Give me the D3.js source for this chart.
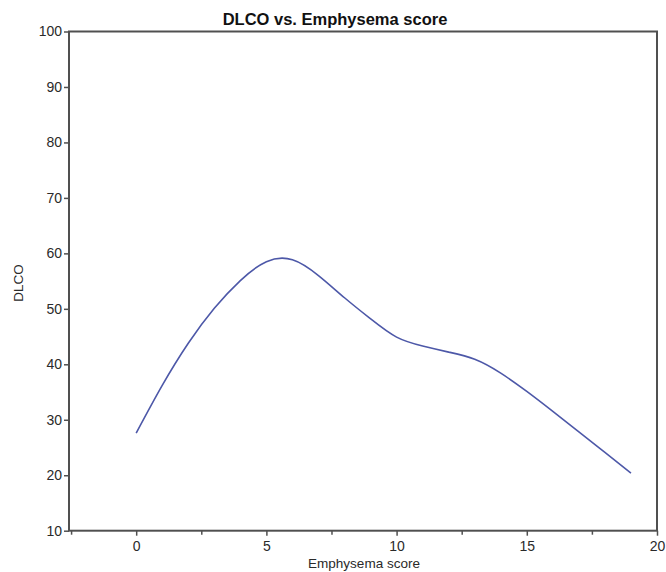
<!DOCTYPE html>
<html><head><meta charset="utf-8">
<script src="https://cdn.jsdelivr.net/npm/d3@7"></script>
<style>body{margin:0;background:#fff}svg{display:block}</style>
</head><body><svg id="c" width="666" height="572"></svg>
<script>
const xValues = [0,1,2,3,4,5,6,7,8,9,10,11,12,13,14,15,16,17,18,19];
const dlcoValues = [27.6,36.2,43.8,50.1,55.1,58.5,58.85,56.0,52.0,48.2,44.9,43.3,42.2,40.9,38.4,35.1,31.5,27.8,24.1,20.4];
const xTicks = [0,5,10,15,20];
const xMinorTicks = [-2.5,2.5,7.5,12.5,17.5];
const yTicks = [10,20,30,40,50,60,70,80,90,100];
const title = "DLCO vs. Emphysema score";
const xLabel = "Emphysema score";
const yLabel = "DLCO";

const L=69, R=657, T=31.5, B=530.7;
const svg = d3.select("#c");
const x = d3.scaleLinear().domain([-2.58,20]).range([L,R]);
const y = d3.scaleLinear().domain([10,100]).range([B,T]);
const font = "'Liberation Sans', Arial, sans-serif";
const axCol = "#505050";

svg.append("rect").attr("x",L).attr("y",T).attr("width",R-L).attr("height",B-T)
  .attr("fill","none").attr("stroke",axCol).attr("stroke-width",2);

const xa = svg.append("g").attr("transform",`translate(0,${B})`)
  .call(d3.axisBottom(x).tickValues(xTicks).tickSize(5).tickPadding(5).tickFormat(d3.format("d")));
const xm = svg.append("g").attr("transform",`translate(0,${B})`)
  .call(d3.axisBottom(x).tickValues(xMinorTicks).tickSize(4).tickFormat(""));
const ya = svg.append("g").attr("transform",`translate(${L},0)`)
  .call(d3.axisLeft(y).tickValues(yTicks).tickSize(5).tickPadding(2).tickFormat(d3.format("d")));
[xa,xm,ya].forEach(g=>{
  g.select(".domain").remove();
  g.selectAll("line").attr("stroke",axCol).attr("stroke-width",1.5);
  g.selectAll("text").attr("fill","#2a2a2a").style("font-family",font).style("font-size","14px");
});

const line = d3.line().x((d,i)=>x(xValues[i])).y(d=>y(d)).curve(d3.curveNatural);
svg.append("path").datum(dlcoValues).attr("d",line).attr("fill","none")
  .attr("stroke","#4d58a8").attr("stroke-width",1.6);

svg.append("text").attr("x",335).attr("y",25).attr("text-anchor","middle")
  .style("font-family",font).style("font-size","16.5px").style("font-weight","bold").attr("fill","#111").text(title);
svg.append("text").attr("x",364).attr("y",568).attr("text-anchor","middle")
  .attr("textLength",112).attr("lengthAdjust","spacingAndGlyphs")
  .style("font-family",font).style("font-size","13.5px").attr("fill","#2a2a2a").text(xLabel);
svg.append("text").attr("transform","translate(23,283) rotate(-90)").attr("text-anchor","middle")
  .style("font-family",font).style("font-size","13.5px").attr("fill","#2a2a2a").text(yLabel);
</script></body></html>
